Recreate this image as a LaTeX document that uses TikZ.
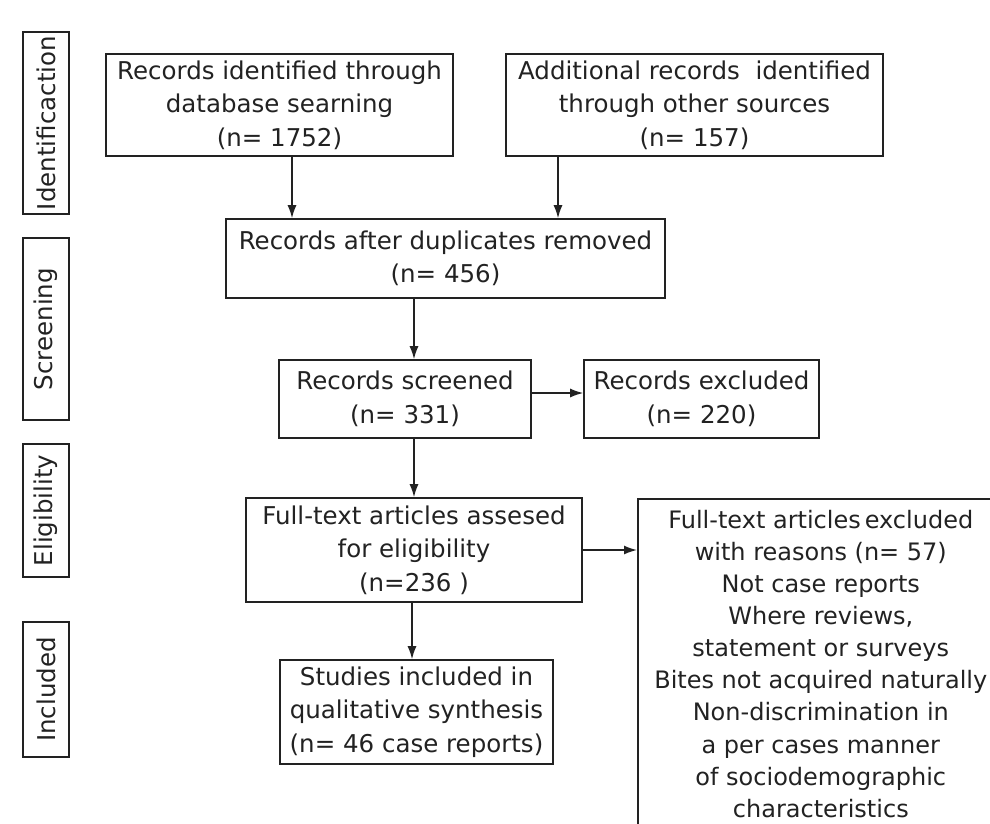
\documentclass[tikz,border=0pt]{standalone}
\usepackage{fontspec}
\setmainfont{DejaVu Sans}
\usetikzlibrary{arrows.meta}
\definecolor{ink}{HTML}{222222}
\tikzset{
  box/.style={draw=ink, line width=1.6pt, align=center, inner sep=2pt,
    text=ink, font=\fontsize{24.5pt}{33.5pt}\selectfont},
  side/.style={draw=ink, line width=1.6pt, rotate=90, minimum height=46pt,
    inner sep=0pt, text=ink, font=\fontsize{24.5pt}{30pt}\selectfont},
  arr/.style={draw=ink, line width=1.5pt, -{Latex[length=13pt,width=9pt]}}
}
\begin{document}
\begin{tikzpicture}[x=1pt,y=-1pt]
\useasboundingbox (0,0) rectangle (990,823);
\clip (0,0) rectangle (990,823);
\fill[white] (0,0) rectangle (990,823);
% side labels
\node[side, minimum width=182pt] (s1) at (46,123) {Identificaction};
\node[side, minimum width=182pt] (s2) at (46,329) {Screening};
\node[side, minimum width=133pt] (s3) at (46,510.5) {Eligibility};
\node[side, minimum width=135pt] (s4) at (46,689.5) {Included};
% boxes
\node[box, minimum width=347pt, minimum height=102pt] (b1) at (279.5,105)
  {Records identified through\\database searning\\(n= 1752)};
\node[box, minimum width=377pt, minimum height=102pt] (b2) at (694.5,105)
  {Additional records\ \ identified\\through other sources\\(n= 157)};
\node[box, minimum width=439pt, minimum height=79pt] (b3) at (445.5,258.5)
  {Records after duplicates removed\\(n= 456)};
\node[box, minimum width=252pt, minimum height=78pt] (b4) at (405,399)
  {Records screened\\(n= 331)};
\node[box, minimum width=235pt, minimum height=78pt] (b5) at (701.5,399)
  {Records excluded\\(n= 220)};
\node[box, minimum width=336pt, minimum height=104pt] (b6) at (414,550)
  {Full-text articles assesed\\for eligibility\\(n=236 )};
\node[box, minimum width=273pt, minimum height=104pt] (b8) at (416.5,712)
  {Studies included in\\qualitative synthesis\\(n= 46 case reports)};
\node[box, anchor=north west, minimum width=366pt, minimum height=330pt,
  inner ysep=0pt, font=\fontsize{24pt}{32.1pt}\selectfont] (b7) at (637,498)
  {Full-text articles\,excluded\\with reasons (n= 57)\\Not case reports\\Where reviews,\\statement or surveys\\Bites not acquired naturally\\Non-discrimination in\\a per cases manner\\of sociodemographic\\characteristics};
% connectors
\draw[arr] ([xshift=12.5pt]b1.south) -- ([xshift=12.5pt]b1.south |- b3.north);
\draw[arr] ([xshift=-136.5pt]b2.south) -- ([xshift=-136.5pt]b2.south |- b3.north);
\draw[arr] ([xshift=-31.5pt]b3.south) -- ([xshift=-31.5pt]b3.south |- b4.north);
\draw[arr] ([yshift=6pt]b4.east) -- ([yshift=6pt]b4.east -| b5.west);
\draw[arr] (b4.south -| b6.north) -- (b6.north);
\draw[arr] (b6.east) -- (b6.east -| b7.west);
\draw[arr] ([xshift=-2pt]b6.south) -- ([xshift=-2pt]b6.south |- b8.north);
\end{tikzpicture}
\end{document}
